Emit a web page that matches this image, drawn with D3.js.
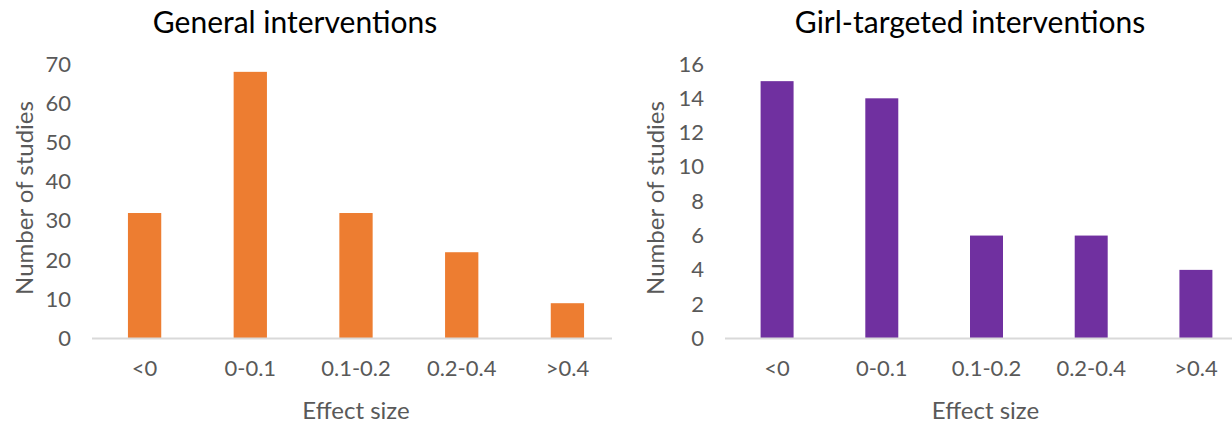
<!DOCTYPE html>
<html>
<head>
<meta charset="utf-8">
<script src="https://cdn.jsdelivr.net/npm/d3@7"></script>
<style>
  html, body { margin: 0; padding: 0; background: #fff; }
  svg { display: block; }
  text { font-family: Lato, "Open Sans", sans-serif; }
</style>
</head>
<body>
<svg id="chart" width="1232" height="423"></svg>
<script>
const categories = ["<0", "0-0.1", "0.1-0.2", "0.2-0.4", ">0.4"];
const generalCounts = [32, 68, 32, 22, 9];
const girlCounts = [15, 14, 6, 6, 4];
const generalTicks = [0, 10, 20, 30, 40, 50, 60, 70];
const girlTicks = [0, 2, 4, 6, 8, 10, 12, 14, 16];

const svg = d3.select("#chart");

function panel(opts) {
  const g = svg.append("g");
  const x = d3.scaleBand().domain(categories).range([opts.x0, opts.x1]).paddingInner(0.685).paddingOuter(0.34);
  const y = d3.scaleLinear().domain([0, opts.max]).range([338.5, 64]);

  // title
  g.append("text").attr("x", opts.titleX).attr("y", 33)
    .attr("text-anchor", "middle").attr("font-size", 30).attr("fill", "#000")
    .text(opts.title);

  // y axis labels
  const ya = g.append("g").attr("transform", `translate(${opts.x0 - 21},0)`)
    .call(d3.axisLeft(y).tickValues(opts.ticks).tickSize(0).tickPadding(0));
  ya.select(".domain").remove();
  ya.selectAll("text").attr("font-size", 22).attr("fill", "#595959")
    .attr("font-family", "Lato, 'Open Sans', sans-serif");

  // bars
  g.selectAll("rect.bar").data(opts.values).join("rect")
    .attr("class", "bar")
    .attr("x", (d, i) => x(categories[i]))
    .attr("width", x.bandwidth())
    .attr("y", d => y(d))
    .attr("height", d => y(0) - y(d))
    .attr("fill", opts.color);

  // x axis
  const xa = g.append("g").attr("transform", `translate(0,${y(0)})`)
    .call(d3.axisBottom(x).tickSize(0).tickPadding(22));
  xa.select(".domain").attr("stroke", "#D9D9D9").attr("stroke-width", 2)
    .attr("d", `M${opts.x0},0H${opts.axisEnd}`);
  xa.selectAll("text").attr("font-size", 22).attr("fill", "#595959")
    .attr("font-family", "Lato, 'Open Sans', sans-serif");

  // axis titles
  g.append("text").attr("x", (opts.x0 + opts.axisEnd) / 2 + opts.xTitleShift).attr("y", 419)
    .attr("text-anchor", "middle").attr("font-size", 24).attr("fill", "#595959")
    .text("Effect size");
  g.append("text")
    .attr("transform", `translate(${opts.yTitleX},198) rotate(-90)`)
    .attr("text-anchor", "middle").attr("font-size", 24).attr("fill", "#595959")
    .text("Number of studies");
}

panel({ x0: 92, x1: 620, axisEnd: 612, max: 70, ticks: generalTicks, values: generalCounts,
  color: "#ED7D31", title: "General interventions", titleX: 295, xTitleShift: 4, yTitleX: 33 });
panel({ x0: 725, x1: 1248, axisEnd: 1232, max: 16, ticks: girlTicks, values: girlCounts,
  color: "#7030A0", title: "Girl-targeted interventions", titleX: 970, xTitleShift: 7, yTitleX: 664 });
</script>
</body>
</html>
